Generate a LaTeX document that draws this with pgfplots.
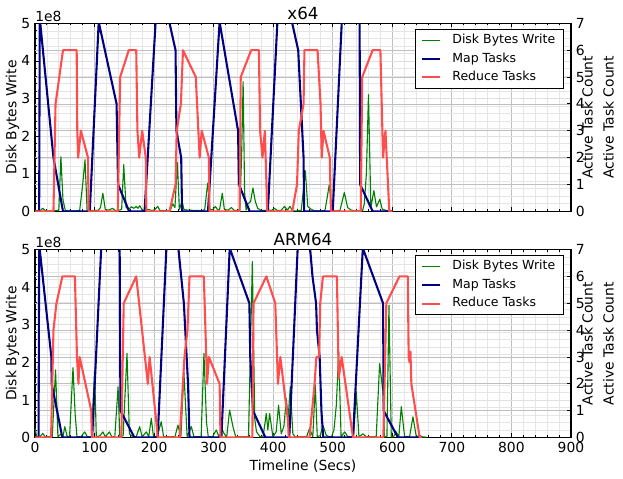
\documentclass[border=0pt]{standalone}
\usepackage{fontspec}
\setmainfont{DejaVu Sans}
\usepackage{pgfplots}
\pgfplotsset{compat=1.18}
\definecolor{dgreen}{RGB}{0,128,0}
\definecolor{navyb}{RGB}{0,0,128}
\definecolor{lred}{RGB}{255,77,77}
\newcommand{\tenpt}{\fontsize{10}{12}\selectfont}
\pgfplotsset{
 common/.style={
  scale only axis, width=385.92pt, height=135.36pt,
  xmin=0, xmax=900, xtick={0,100,...,900}, minor x tick num=4,
  tick align=inside,
  major tick length=3pt, minor tick length=1.5pt,
  every tick/.style={black, line width=0.6pt},
  axis line style={line width=0.8pt},
  tick label style={font=\tenpt},
  /pgf/number format/assume math mode=true,
  anchor=north west,
 },
 leftax/.style={common,
  ymin=0, ymax=5, ytick={0,1,...,5}, minor y tick num=4,
  ytick pos=left,
  grid=both,
  major x grid style={gray!50, line width=0.5pt},
  minor x grid style={gray!20, line width=0.5pt},
  major y grid style={gray!25, line width=0.5pt},
  minor y grid style={gray!20, line width=0.5pt},
  extra y ticks={0.714286,1.428571,2.142857,2.857143,3.571429,4.285714},
  extra y tick labels={},
  extra y tick style={grid=major, major tick length=0pt, major y grid style={gray!50, line width=0.5pt}},
 },
 rightax/.style={common,
  ymin=0, ymax=7, ytick={0,...,7},
  axis y line*=right, axis x line=none,
  legend cell align=left,
  legend image code/.code={\draw[##1] (0pt,0pt) -- (13pt,0pt);},
  legend style={at={(1,1)}, anchor=north east, xshift=-5pt, yshift=-4pt,
    draw=black, line width=0.6pt, fill=white, font=\fontsize{9}{11}\selectfont,
    inner xsep=4pt, inner ysep=1.5pt, column sep=6pt, row sep=0.5pt,
    nodes={inner xsep=2pt, inner ysep=2pt, text depth=0.2em}},
 },
 gline/.style={dgreen, line width=0.8pt, line join=round},
 bline/.style={navyb, line width=1.5pt, line join=round},
 rline/.style={lred, line width=1.5pt, line join=round},
}
\begin{document}
\begin{tikzpicture}
\path[use as bounding box] (-25.2pt,16.8pt) rectangle (423.4pt,-328.1pt);
% ---------------- TOP (x64) ----------------
\begin{axis}[leftax, name=top, at={(0,0)}, xticklabels={}]
\addplot[gline] coordinates {
(0,0.01) (5,0.02) (9,0.02) (13,0.08) (17,0.02) (22,0.01) (28,0.01) (34,0.02) (40,0.02) (43.5,1.45) (47,0.3) (51,0.02) (57,0.01) (64,0.01) (70,0.01) (75,0.02) (80,0.7) (84,1.37) (87.5,0.02) (93,0.01) (100,0.02) (106,0.02) (110,0.1) (114,0.48) (118,0.05) (124,0.03) (130,0.08) (135,0.02) (141,0.03) (145.5,0.05) (149,1.24) (153,0.1) (158,0.06) (162,0.12) (166,0.08) (170,0.13) (173,0.08) (176,0.15) (180,0.03) (185,0.02) (191,0.05) (196,0.02) (201,0.04) (206,0.13) (210,0.02) (216,0.02) (222,0.01) (227,0.02) (231.5,0.2) (235,0.1) (239,1.3) (242.5,0.05) (247,0.26) (250,0.05) (256,0.03) (262,0.03) (268,0.02) (275,0.02) (280,0.01) (285,0.05) (290,0.75) (294,0.04) (299,0.05) (303,0.13) (307,0.03) (310,0.05) (314.5,0.48) (318,0.05) (324,0.03) (330,0.1) (335,0.02) (340,0.02) (344,0.05) (347,1.5) (349.5,3.45) (352,0.5) (354.5,0.03) (357.5,0.2) (362,0.26) (366,0.62) (370,0.26) (374,0.08) (380,0.02) (386,0.02) (391,0.04) (397,0.02) (402,0.08) (407,0.02) (413,0.02) (419,0.13) (424,0.03) (428,0.13) (433,0.01) (440,0.01) (447,0.02) (451,0.6) (454,1.08) (458,0.13) (464,0.05) (470,0.01) (477,0.01) (483,0.01) (487,0.03) (490,0.3) (494,0.7) (499,0.03) (505,0.01) (512,0.02) (519.5,0.5) (525,0.1) (530,0.04) (536,0.01) (543,0.01) (550,0.01) (553,0.2) (556.5,1.0) (560,3.1) (564,0.1) (569,0.55) (573.5,0.12) (579,0.32) (583,0.06) (588,0.03) (594,0.01) (600,0.01)
};
\end{axis}
\begin{axis}[rightax, at={(0,0)}]
\addlegendimage{gline}
\addlegendentry{Disk Bytes Write}
\addplot[bline] coordinates {
(0,0) (7,0) (8,7.2) (31,2) (47,0) (92,0) (107,7.05) (137,4) (139.5,1) (158,0) (184,0) (204,7.6) (224,7.2) (236,6) (237.5,3) (245.5,2) (247,0) (290.5,0) (310,7.05) (341,3) (342.5,1) (360.5,0) (391,0) (409,7.9) (430,7.2) (442,6) (451,2) (452,0) (500,0) (517,7.9) (545,7.9) (546,1) (567,0) (600,0)
};
\addlegendentry{Map Tasks}
\addplot[rline] coordinates {
(0,0) (31,0) (34.5,4) (47,6) (70,6) (71,3) (72.5,2) (77,3) (89,2) (90,0) (139,0) (143,5) (157.5,6) (170,6) (172,3) (175,2) (180,3) (186,2) (187,0) (226,0) (236,1) (238,3) (245,4) (248.5,6) (270,5) (276.5,2) (280,3) (292,2) (293,0) (343.5,0) (345.5,5) (363,6) (376,6) (378,3) (382,2) (386,3) (390,0) (432,0) (440,1) (443,3) (451,4) (452.5,6) (474.5,6) (479.5,4) (481.5,2) (484.5,3) (495,2) (497,0) (547,0) (549.5,5) (567,6) (580,6) (584.5,2) (588.5,3) (595,0) (600,0)
};
\addlegendentry{Reduce Tasks}
\end{axis}
% ---------------- BOTTOM (ARM64) ----------------
\begin{axis}[leftax, name=bot, at={(0,-162.9pt)}]
\addplot[gline] coordinates {
(0,0.24) (3,0.02) (8,0.02) (13,0.11) (17,0.02) (23,0.02) (29,0.02) (34.5,1.8) (38.5,0.02) (44,0.1) (47,0.02) (50,0.29) (54,0.03) (58,0.02) (63.8,1.86) (67.5,0.6) (70.5,0.02) (77,0.02) (83.5,0.15) (88,0.02) (95,0.02) (100,1.77) (103,0.02) (109,0.05) (114,0.15) (118,0.02) (125,0.15) (129,0.02) (134,0.02) (139.5,1.35) (142.5,0.02) (148,0.05) (154.5,2.24) (158.5,0.1) (164,0.02) (170,0.02) (175.7,0.29) (180,0.02) (187,0.15) (191,0.02) (195.3,0.51) (199,0.02) (205,0.02) (212,0.42) (216,0.02) (221,0.02) (228,0.02) (235,0.02) (240,0.33) (245,0.02) (250,1.75) (255.5,0.02) (262.5,0.29) (267,0.02) (273,0.02) (279,0.02) (283.7,2.24) (288,0.4) (291,0.02) (298,0.02) (304.4,0.2) (309,0.02) (314.5,0.2) (318.5,0.08) (322,0.02) (326.8,0.73) (332.4,0.29) (337,0.02) (344,0.02) (350,0.02) (358.5,0.02) (365,4.68) (369,0.5) (372,0.15) (378,0.02) (383,0.02) (388.4,0.64) (391,0.2) (394,0.64) (399.5,0.02) (405,0.15) (409,0.86) (413.5,0.1) (418,0.3) (422,1.04) (425,0.5) (428.7,1.35) (433,0.1) (437,0.02) (444,0.02) (450,0.02) (456,0.02) (461,0.24) (466.5,0.02) (470.7,1.4) (474,0.02) (479,0.05) (483.6,0.33) (489,0.06) (494,0.02) (498,0.02) (502,0.2) (506,0.86) (510,2.28) (514,0.02) (520,0.15) (525.5,0.02) (530,0.02) (535,0.02) (539.5,1.22) (544,0.02) (550.7,0.1) (556,0.02) (562,0.02) (568,0.02) (573,0.02) (578.7,1.97) (584.3,1.22) (587,0.02) (591,0.02) (594.4,3.52) (598.3,0.02) (602,0.02) (606.7,0.15) (611,0.02) (615.1,0.82) (620.7,0.02) (625,0.02) (629,0.02) (634.7,0.55) (640.3,0.02) (645.9,0.06) (650,0.02) (657,0.01)
};
\end{axis}
\begin{axis}[rightax, at={(0,-162.9pt)}]
\addlegendimage{gline}
\addlegendentry{Disk Bytes Write}
\addplot[bline] coordinates {
(0,0) (6,0) (7,7.2) (27.5,3) (28,2) (37,1) (46,0) (96,0) (113,7.9) (142,7.9) (143.5,1) (167,0) (206,0) (222,7.7) (238,7.66) (250,5) (257,2) (259.5,0) (313,0) (327,7.05) (360,5) (361.5,3) (366,1) (387,0) (427,0) (443,8) (461,7.3) (466,6) (472,5) (473.5,4) (478,3) (481,1) (484,0) (534,0) (550.5,7.05) (584.5,5) (585.5,1) (609.5,0) (650,0)
};
\addlegendentry{Map Tasks}
\addplot[rline] coordinates {
(0,0) (27,0) (31,4) (36,5) (46,6) (67,6) (70.5,3) (73,2) (75,3) (94.5,1) (95.5,0) (145,0) (149,5) (170,6) (189.5,2) (192.5,3) (205,0.3) (206,0) (243,0) (251,3) (256,4) (259.5,6) (283.5,6) (289,2) (292,3) (310,2) (311.5,0) (365,0) (367,5) (388.5,6) (403.5,5) (408,2) (412,3) (425,0.6) (426,0) (461,0) (469.5,2) (472.5,3) (477,3) (479,5) (483.5,6) (507,6) (510,2.2) (515,3) (534,0) (585,0) (590,5) (612,6) (626,6) (627.5,3) (629,2.8) (630.5,3.2) (632,2) (646,0) (650,0)
};
\addlegendentry{Reduce Tasks}
\end{axis}
% ---------------- outer labels ----------------
\node[anchor=south west, inner sep=0pt, font=\tenpt] at ([yshift=1.2pt]top.north west) {1e8};
\node[anchor=south, inner sep=0pt, font=\fontsize{12}{14}\selectfont] at ([yshift=2.4pt]top.north) {x64};
\node[anchor=south west, inner sep=0pt, font=\tenpt] at ([yshift=1.2pt]bot.north west) {1e8};
\node[anchor=south, inner sep=0pt, font=\fontsize{12}{14}\selectfont] at ([yshift=2.4pt]bot.north) {ARM64};
\node[rotate=90, font=\tenpt] at ([xshift=-16.2pt]top.west) {Disk Bytes Write};
\node[rotate=90, font=\tenpt] at ([xshift=11.9pt]top.east) {Active Task Count};
\node[rotate=90, font=\tenpt] at ([xshift=27pt]top.east) {Active Task Count};
\node[rotate=90, font=\tenpt] at ([xshift=-16.2pt]bot.west) {Disk Bytes Write};
\node[rotate=90, font=\tenpt] at ([xshift=11.9pt]bot.east) {Active Task Count};
\node[rotate=90, font=\tenpt] at ([xshift=27pt]bot.east) {Active Task Count};
\node[font=\tenpt] at ([yshift=-20.5pt]bot.south) {Timeline (Secs)};
\end{tikzpicture}
\end{document}
